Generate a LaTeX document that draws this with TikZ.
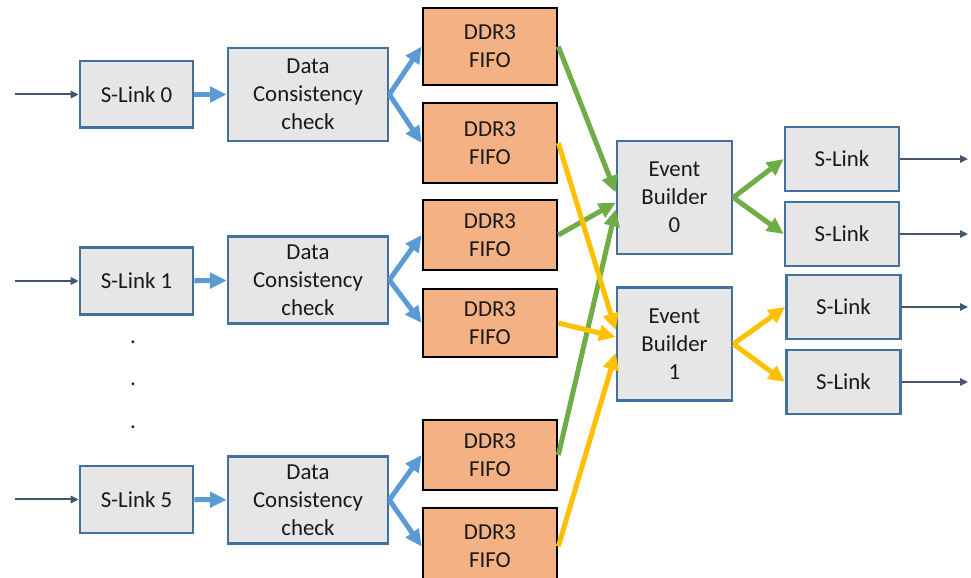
\documentclass[tikz,border=0pt]{standalone}
\usepackage{fontspec}
\setmainfont{Carlito}
\usepackage{xcolor}
\definecolor{boxgray}{RGB}{231, 230, 230}
\definecolor{boxline}{RGB}{65, 113, 156}
\definecolor{fifofill}{RGB}{244, 177, 131}
\definecolor{linkblue}{RGB}{91, 155, 213}
\definecolor{ebgreen}{RGB}{112, 173, 71}
\definecolor{ebyellow}{RGB}{255, 192, 0}
\definecolor{wiregray}{RGB}{68, 84, 106}
\usetikzlibrary{arrows.meta, positioning}

\begin{document}
\begin{tikzpicture}[
    x=0.3mm, y=-0.3mm,
    every node/.style={align=center, font=\fontsize{19.5}{24}\selectfont, text=black!90},
    slink/.style={rectangle, draw=boxline, line width=0.8mm, fill=boxgray, minimum width=33.9mm, minimum height=20mm, inner sep=0pt},
    dcc/.style={rectangle, draw=boxline, line width=0.8mm, fill=boxgray, minimum width=48mm, minimum height=26mm, inner sep=0pt},
    fifo/.style={rectangle, draw=black, line width=0.8mm, fill=fifofill, minimum width=40.2mm, minimum height=21mm, inner sep=0pt},
    builder/.style={rectangle, draw=boxline, line width=0.8mm, fill=boxgray, minimum width=34.5mm, minimum height=33.9mm, inner sep=0pt},
    wire/.style={-{Triangle[length=2.4mm, width=2.2mm]}, wiregray, line width=0.6mm},
    bluearrow/.style={-{Triangle[length=5mm, width=4.6mm]}, linkblue, line width=1.5mm},
    greenarrow/.style={-{Triangle[length=5mm, width=4.6mm]}, ebgreen, line width=1.5mm},
    yellowarrow/.style={-{Triangle[length=5mm, width=4.6mm]}, ebyellow, line width=1.5mm}
]
\useasboundingbox (0,0) rectangle (971,578);

% Inputs
\node[slink] (sl0) at (136.5,94.5) {S-Link 0};
\node[slink] (sl1) at (136.5,281) {S-Link 1};
\node[slink] (sl5) at (136.5,499.5) {S-Link 5};
\node (dot1) at (133,342) {.};
\node (dot2) at (133,384) {.};
\node (dot3) at (133,427) {.};
\coordinate (in0) at (15,94.5);
\coordinate (in1) at (15,281);
\coordinate (in5) at (15,499.5);

% Consistency checks
\node[dcc, minimum height=27.9mm] (dcc0) at (308,94.5) {Data\\Consistency\\check};
\node[dcc] (dcc1) at (308,280) {Data\\Consistency\\check};
\node[dcc] (dcc5) at (308,500) {Data\\Consistency\\check};

% FIFOs
\node[fifo, minimum height=23.1mm] (fifoa) at (490,46.5) {DDR3\\FIFO};
\node[fifo, minimum height=24mm] (fifob) at (490,143) {DDR3\\FIFO};
\node[fifo] (fifoc) at (490,235) {DDR3\\FIFO};
\node[fifo, minimum height=20.4mm] (fifod) at (490,323) {DDR3\\FIFO};
\node[fifo] (fifoe) at (490,455) {DDR3\\FIFO};
\node[fifo, minimum height=23.1mm] (fifof) at (490,546.5) {DDR3\\FIFO};

% Event builders
\node[builder] (eb0) at (674.5,197.5) {Event\\Builder\\0};
\node[builder] (eb1) at (674.5,344) {Event\\Builder\\1};

% Outputs
\node[slink, minimum width=34.2mm, minimum height=19.2mm] (outa) at (842,159) {S-Link};
\node[slink, minimum width=34.2mm, minimum height=19.2mm] (outb) at (842,234) {S-Link};
\node[slink, minimum width=34.2mm, minimum height=19.2mm] (outc) at (843.5,307) {S-Link};
\node[slink, minimum width=34.2mm, minimum height=19.2mm] (outd) at (843.5,382) {S-Link};
\coordinate (oa) at (968,159);
\coordinate (ob) at (968,234);
\coordinate (oc) at (968,307);
\coordinate (od) at (968,382);

% Connections
\draw[wire] (in0) -- (sl0);
\draw[wire] (in1) -- (sl1);
\draw[wire] (in5) -- (sl5);
\draw[bluearrow] (sl0) -- (dcc0);
\draw[bluearrow] (sl1) -- (dcc1);
\draw[bluearrow] (sl5) -- (dcc5);
\draw[bluearrow] (dcc0.east) -- (fifoa.west);
\draw[bluearrow] (dcc0.east) -- (fifob.west);
\draw[bluearrow] (dcc1.east) -- (fifoc.west);
\draw[bluearrow] (dcc1.east) -- (fifod.west);
\draw[bluearrow] (dcc5.east) -- (fifoe.west);
\draw[bluearrow] (dcc5.east) -- (fifof.west);

\draw[greenarrow] (fifoa.east) -- ([yshift=1.5mm]eb0.west);
\draw[greenarrow] (fifoc.east) -- ([yshift=-1.5mm]eb0.west);
\draw[greenarrow] (fifoe.east) -- ([yshift=-3.6mm]eb0.west);
\draw[yellowarrow] (fifob.east) -- ([yshift=4.2mm]eb1.west);
\draw[yellowarrow] (fifod.east) -- ([yshift=2.1mm]eb1.west);
\draw[yellowarrow] (fifof.east) -- ([yshift=-2.7mm]eb1.west);

\draw[greenarrow] (eb0.east) -- (outa.west);
\draw[greenarrow] (eb0.east) -- (outb.west);
\draw[yellowarrow] (eb1.east) -- (outc.west);
\draw[yellowarrow] (eb1.east) -- (outd.west);
\draw[wire] (outa) -- (oa);
\draw[wire] (outb) -- (ob);
\draw[wire] (outc) -- (oc);
\draw[wire] (outd) -- (od);

\end{tikzpicture}
\end{document}
